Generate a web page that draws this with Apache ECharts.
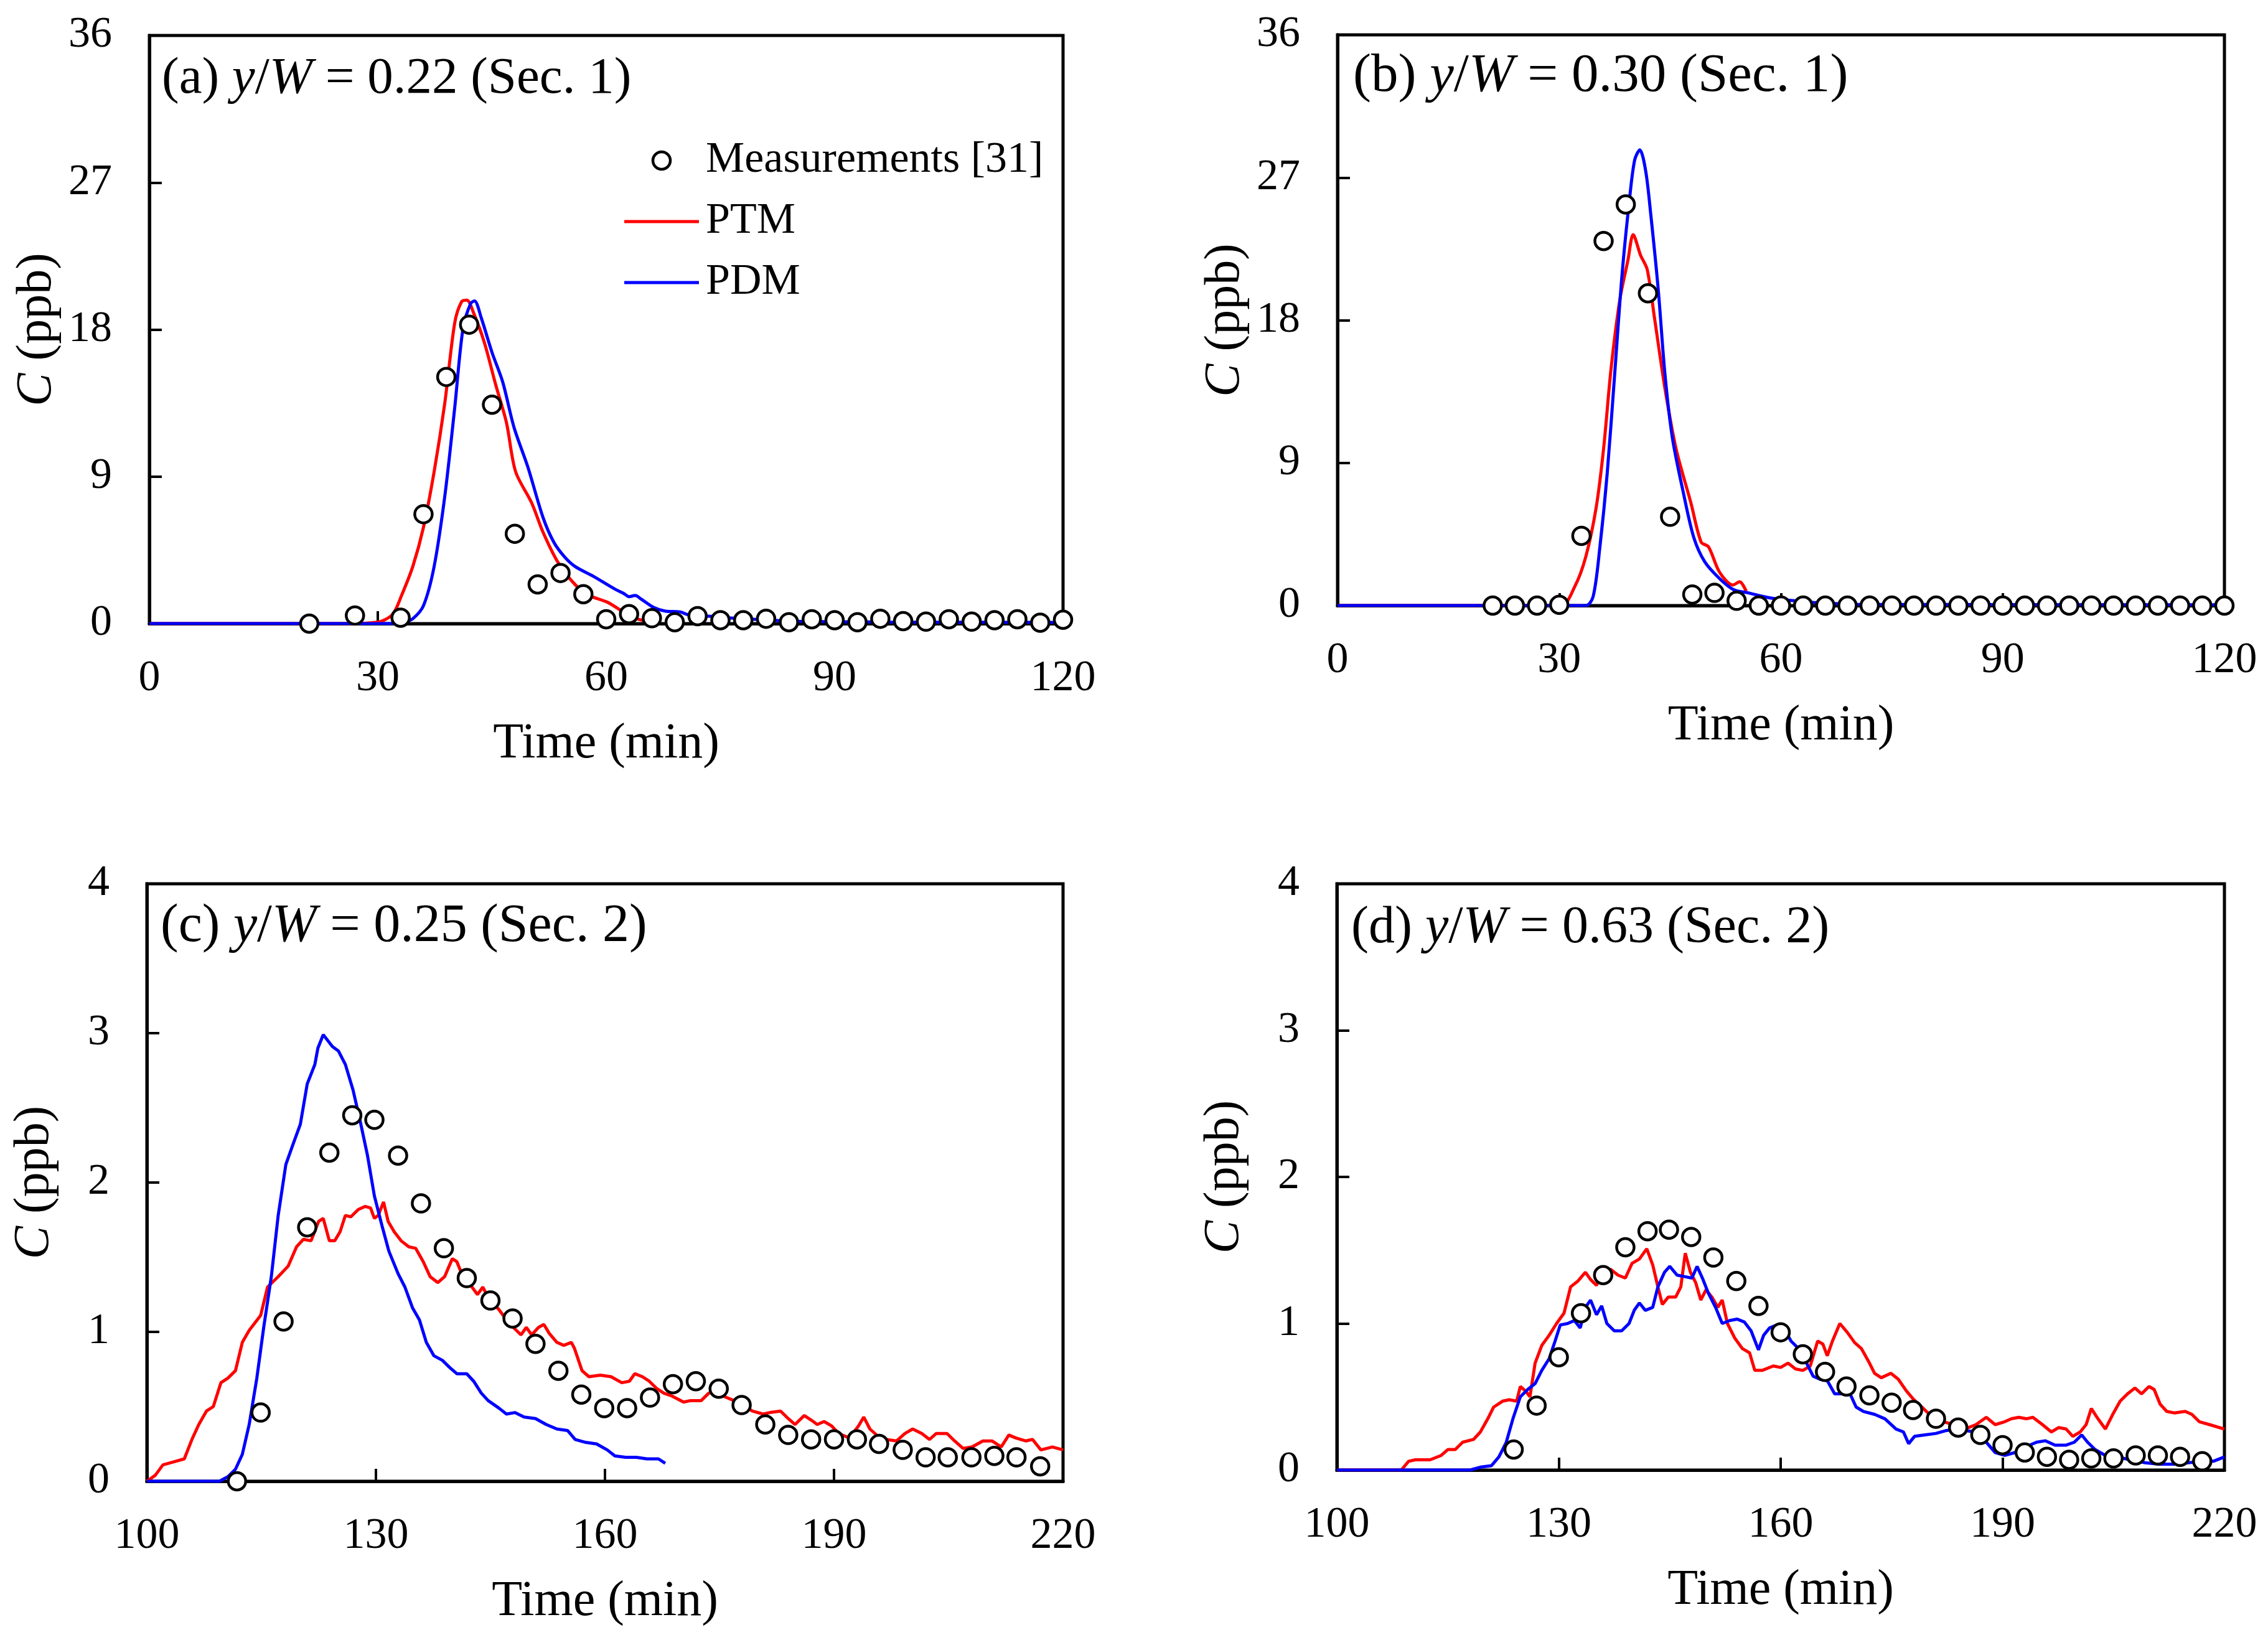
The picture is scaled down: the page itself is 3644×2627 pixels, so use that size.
<!DOCTYPE html>
<html>
<head>
<meta charset="utf-8">
<script src="https://cdn.jsdelivr.net/npm/echarts@6/dist/echarts.min.js"></script>
<style>
  html, body { margin: 0; padding: 0; background: #fff; }
  #chart { width: 3644px; height: 2627px; }
</style>
</head>
<body>
<div id="chart"></div>
<script>
var FONT = 'Liberation Serif';

// (a) y/W = 0.22 (Sec. 1)
var measA = [[21,0],[27,0.5],[33,0.36],[36,6.7],[39,15.1],[42,18.3],[45,13.4],[48,5.5],[51,2.4],[54,3.1],[57,1.8],
  [60,0.27],[63,0.58],[66,0.33],[69,0.09],[72,0.46],[75,0.21],[78,0.21],[81,0.3],[84,0.09],[87,0.27],[90,0.21],
  [93,0.09],[96,0.3],[99,0.15],[102,0.12],[105,0.27],[108,0.12],[111,0.21],[114,0.27],[117,0.06],[120,0.24]];
var ptmA = [[0,0],[27,0],[29,0.05],[30.5,0.15],[32,0.6],[33.1,1.7],[34.6,3.5],[36,5.9],[37.4,9.3],[38.8,13.5],
  [40.1,18.4],[41,19.7],[41.7,19.8],[42.6,19],[44,17.2],[45.5,14.6],[46.9,12.3],[48.1,9.3],[50.2,7.4],[51.7,5.6],
  [53.6,3.8],[55.5,2.6],[57.4,1.8],[60.2,1.3],[62.1,0.76],[64,0.3],[66,0.1]];
var pdmA = [[0,0],[32,0],[33.5,0.1],[34.6,0.3],[36,1.1],[37.4,3.5],[38.8,7.8],[40.1,13.2],[41.2,18.1],[42.2,19.6],
  [42.7,19.75],[43.6,18.7],[45,16.6],[46.4,14.8],[47.9,12],[49.7,9.6],[51.7,6.5],[53.1,5],[54.5,4.1],[55.9,3.5],
  [58.3,2.9],[61.2,2.1],[62.3,1.85],[63,1.65],[63.8,1.72],[64.6,1.5],[66.2,1.0],[67.8,0.76],[69.7,0.72],[70.8,0.53],
  [73.4,0.46],[76.4,0.34],[79.4,0.27],[84,0.15],[95,0.1],[120,0.08]];

// (b) y/W = 0.30 (Sec. 1)
var measB = [[21,0],[24,0],[27,0],[30,0.05],[33,4.4],[36,23],[39,25.3],[42,19.7],[45,5.6],[48,0.7],[51,0.8],[54,0.3],
  [57,0],[60,0],[63,0],[66,0],[69,0],[72,0],[75,0],[78,0],[81,0],[84,0],[87,0],[90,0],[93,0],[96,0],[99,0],
  [102,0],[105,0],[108,0],[111,0],[114,0],[117,0],[120,0]];
var ptmB = [[0,0],[30.2,0],[32.1,1.2],[33.6,3.1],[35,6.2],[36,9.9],[37,14.9],[38.2,19.3],[39.3,21.8],[40,23.4],
  [41,22.1],[41.9,21.2],[42.9,18.1],[44.3,13.7],[45.8,9.9],[47.8,6.5],[49.2,4],[50.2,3.7],[51.7,2.1],[53.5,1.3],
  [54.4,1.5],[55.3,0.9]];
var pdmB = [[0,0],[33.6,0],[34.6,0.6],[35.5,3.7],[36.5,8.4],[37.5,14.6],[38.5,20.9],[39.5,25.6],[40.2,28.1],
  [40.9,28.75],[41.7,27.4],[42.4,24.6],[43.4,19.9],[44.3,14.6],[45.3,10.6],[46.8,7.1],[48.2,4.3],[49.7,2.75],
  [51.7,1.7],[53.6,1.0],[55.4,0.82],[58.7,0.47],[61.6,0.31],[64.3,0.2],[70,0.08],[120,0.05]];

// (c) y/W = 0.25 (Sec. 2)
var measC = [[111.8,0],[114.9,0.46],[117.9,1.07],[121,1.7],[123.9,2.2],[126.9,2.45],[129.8,2.42],[132.9,2.18],
  [135.9,1.86],[138.9,1.56],[141.9,1.36],[145,1.21],[147.9,1.09],[150.9,0.92],[153.9,0.74],[156.9,0.58],
  [159.9,0.49],[162.9,0.49],[165.9,0.56],[168.9,0.65],[171.9,0.67],[174.9,0.62],[177.9,0.51],[181,0.38],
  [184,0.31],[187,0.28],[190,0.28],[193,0.28],[195.9,0.25],[199,0.21],[202,0.16],[204.9,0.16],[208,0.16],
  [211,0.17],[213.9,0.16],[217,0.1]];
var ptmC = [[100,0],[101.1,0.04],[102.1,0.11],[103.5,0.13],[104.9,0.15],[105.9,0.28],[106.8,0.38],[107.8,0.47],
  [108.7,0.5],[109.7,0.66],[110.6,0.69],[111.6,0.74],[112.5,0.93],[113.4,1.01],[114.9,1.11],[115.8,1.3],
  [117.2,1.37],[118.5,1.44],[119.6,1.57],[120.5,1.62],[121.5,1.61],[122.5,1.74],[123.1,1.76],[123.9,1.61],
  [124.6,1.61],[125.3,1.67],[126,1.78],[126.7,1.77],[127.7,1.82],[128.6,1.84],[129.3,1.83],[129.8,1.76],
  [130.3,1.78],[131,1.87],[131.6,1.74],[132.4,1.67],[133.3,1.61],[134.3,1.57],[135.2,1.56],[136.2,1.47],
  [137.1,1.37],[138.1,1.33],[139,1.37],[140,1.49],[140.6,1.47],[141.4,1.37],[142.3,1.32],[143.3,1.25],[144,1.3],
  [144.7,1.23],[146.1,1.15],[147.1,1.08],[148,1.03],[149,0.98],[149.7,1.03],[150.4,0.98],[151.3,1.03],[152,1.05],
  [152.7,0.99],[153.7,0.93],[154.6,0.91],[155.6,0.93],[156,0.89],[157,0.74],[157.9,0.7],[159.4,0.71],[160.8,0.7],
  [162.2,0.66],[163.2,0.67],[163.9,0.72],[164.9,0.7],[165.8,0.67],[166.8,0.62],[167.7,0.59],[168.8,0.57],
  [170.3,0.53],[171.2,0.54],[172.6,0.54],[173.6,0.59],[174.5,0.6],[175.5,0.57],[176.9,0.54],[177.8,0.52],
  [179.3,0.47],[180.7,0.45],[181.6,0.46],[183,0.47],[184,0.42],[184.9,0.38],[186.1,0.44],[187,0.41],[187.8,0.38],
  [188.7,0.4],[189.7,0.37],[190.6,0.32],[192,0.29],[193.2,0.37],[193.9,0.43],[194.7,0.35],[195.8,0.3],
  [196.8,0.28],[198.2,0.27],[199.3,0.32],[200.3,0.35],[201.5,0.32],[202.5,0.28],[203.4,0.32],[204.8,0.32],
  [205.8,0.27],[206.9,0.22],[208.1,0.23],[209.5,0.27],[210.7,0.27],[211.9,0.23],[212.9,0.31],[213.8,0.29],
  [215.1,0.27],[216,0.28],[217.1,0.21],[218.6,0.23],[220,0.21]];
var pdmC = [[100,0],[109.5,0],[110.6,0.03],[111.6,0.08],[112.5,0.18],[113.4,0.38],[114.4,0.69],[115.3,1.03],
  [116.3,1.37],[117.2,1.78],[118.2,2.12],[119.1,2.25],[120.1,2.39],[121,2.66],[122,2.79],[122.4,2.9],[123.1,2.99],
  [123.7,2.95],[124.3,2.91],[125.1,2.88],[126,2.79],[127,2.62],[127.9,2.42],[128.9,2.18],[129.8,1.91],[130.8,1.71],
  [131.7,1.54],[132.9,1.39],[133.8,1.3],[134.8,1.16],[135.7,1.08],[136.6,0.93],[137.6,0.84],[138.7,0.81],
  [139.7,0.76],[140.6,0.72],[141.9,0.72],[142.8,0.67],[143.8,0.59],[144.7,0.54],[146.1,0.49],[147.1,0.45],
  [148.2,0.46],[149.4,0.43],[150.9,0.42],[152.3,0.38],[153.7,0.35],[155.1,0.34],[156.1,0.28],[157.5,0.26],
  [158.9,0.25],[160.3,0.21],[161.3,0.17],[162.7,0.16],[164.1,0.16],[165.5,0.15],[167,0.15],[167.9,0.12]];

// (d) y/W = 0.63 (Sec. 2)
var measD = [[123.9,0.14],[127,0.44],[130,0.77],[133,1.07],[136,1.33],[139,1.52],[142,1.63],[144.9,1.64],
  [147.9,1.59],[150.9,1.45],[154,1.29],[157,1.12],[160,0.94],[163,0.79],[166,0.67],[168.9,0.57],[172,0.51],
  [175,0.46],[177.9,0.41],[181,0.35],[184,0.29],[187,0.24],[190,0.17],[193,0.12],[196,0.09],[199,0.07],
  [202,0.08],[205,0.08],[208,0.1],[211,0.1],[214,0.09],[217,0.06]];
var ptmD = [[100,0],[108.7,0],[109.7,0.06],[110.6,0.07],[112.6,0.07],[114.1,0.1],[115,0.14],[116,0.14],[117,0.19],
  [118.5,0.21],[119.4,0.26],[120.4,0.35],[121.2,0.43],[122.4,0.47],[123.3,0.48],[124.3,0.47],[124.8,0.57],
  [125.5,0.54],[126.1,0.5],[126.8,0.73],[127.7,0.85],[128.7,0.92],[129.7,1.0],[130.7,1.07],[131.6,1.25],
  [132.6,1.29],[133.6,1.35],[134.3,1.3],[135.1,1.26],[135.8,1.35],[137,1.37],[138,1.33],[139,1.31],[139.9,1.41],
  [140.9,1.44],[141.9,1.51],[142.7,1.4],[143.4,1.25],[144,1.13],[144.8,1.18],[145.8,1.18],[146.5,1.25],
  [147.1,1.48],[147.8,1.35],[148.5,1.28],[149.2,1.16],[149.9,1.23],[150.7,1.18],[151.5,1.11],[152.1,1.16],
  [152.8,1.0],[153.8,0.9],[154.8,0.83],[155.8,0.8],[156.5,0.68],[157.5,0.68],[159,0.71],[160,0.7],[161,0.73],
  [162,0.69],[163,0.68],[164,0.71],[165,0.88],[165.7,0.86],[166.3,0.78],[167,0.88],[168,1.0],[169,0.94],
  [170,0.87],[170.9,0.83],[171.9,0.74],[172.7,0.66],[173.6,0.63],[174.9,0.66],[175.9,0.62],[177,0.54],[178,0.48],
  [179.3,0.42],[180.5,0.36],[182,0.33],[183.4,0.31],[184.9,0.28],[186.4,0.31],[187.8,0.36],[189,0.31],
  [190.3,0.33],[191.2,0.35],[192.2,0.36],[193.2,0.35],[194.1,0.36],[195.4,0.31],[196.6,0.26],[197.6,0.29],
  [198.6,0.28],[199.5,0.23],[200.5,0.26],[201.3,0.31],[202,0.42],[202.9,0.35],[203.9,0.28],[204.9,0.38],
  [205.9,0.47],[206.9,0.52],[207.9,0.56],[208.8,0.52],[209.8,0.57],[210.5,0.55],[211.3,0.45],[212.2,0.4],
  [213.2,0.39],[214.7,0.4],[215.6,0.38],[216.6,0.33],[218,0.31],[220,0.28]];
var pdmD = [[100,0],[118,0],[119.4,0.02],[120.9,0.03],[121.9,0.09],[122.9,0.19],[123.8,0.35],[124.8,0.5],
  [125.8,0.55],[126.8,0.59],[127.7,0.68],[128.7,0.76],[129.5,0.88],[130.2,0.99],[131.2,1.0],[132.1,1.02],
  [132.9,0.97],[133.6,1.11],[134.3,1.16],[135.1,1.06],[135.8,1.12],[136.5,1.0],[137.5,0.95],[138.5,0.95],
  [139.5,1.0],[140.2,1.09],[140.9,1.14],[141.7,1.09],[142.7,1.11],[143.4,1.25],[144.3,1.35],[145,1.39],[146,1.33],
  [147,1.32],[148,1.31],[148.7,1.39],[149.5,1.3],[150.2,1.21],[151.2,1.11],[152.1,1.0],[153.1,1.02],[154.1,1.03],
  [155.1,1.01],[156,0.95],[157,0.82],[157.7,0.92],[158.5,0.97],[159.5,0.99],[160.4,0.97],[161.4,0.88],
  [162.4,0.83],[163.4,0.74],[164.4,0.64],[165.3,0.62],[166.3,0.61],[167.3,0.52],[168.3,0.52],[169.2,0.54],
  [170.2,0.43],[171.2,0.4],[172.7,0.38],[174.1,0.35],[175.6,0.28],[176.6,0.26],[177.3,0.18],[178.1,0.23],
  [179.5,0.24],[181,0.25],[182.4,0.27],[183.9,0.28],[184.9,0.27],[186.4,0.26],[187.8,0.19],[189,0.12],
  [190.3,0.1],[191.7,0.12],[193.2,0.16],[194.6,0.19],[195.8,0.2],[197.1,0.17],[198.6,0.17],[199.7,0.19],
  [200.7,0.24],[201.5,0.19],[202.5,0.14],[203.9,0.1],[205.4,0.09],[207.3,0.07],[209.3,0.05],[211.2,0.04],
  [213.2,0.04],[215.1,0.05],[217.1,0.06],[218.5,0.06],[220,0.09]];

var panelTitles = ['(a) {i|y}/{i|W} = 0.22 (Sec. 1)', '(b) {i|y}/{i|W} = 0.30 (Sec. 1)',
                   '(c) {i|y}/{i|W} = 0.25 (Sec. 2)', '(d) {i|y}/{i|W} = 0.63 (Sec. 2)'];
var xRanges = [[0,120],[0,120],[100,220],[100,220]];
var yRanges = [[0,36,9],[0,36,9],[0,4,1],[0,4,1]];
var grids = [
  {left: 240, top: 57, width: 1468, height: 945},
  {left: 2149, top: 56, width: 1425, height: 917},
  {left: 236, top: 1420, width: 1472, height: 960},
  {left: 2148, top: 1420, width: 1426, height: 942}
];
var titlePos = [[260, 86], [2174, 80], [258, 1446], [2171, 1450]];
var titleSize = [83, 87, 86, 84];
var meas = [measA, measB, measC, measD];
var ptm = [ptmA, ptmB, ptmC, ptmD];
var pdm = [pdmA, pdmB, pdmC, pdmD];

var LINE_ICON = 'path://M0,0L120,0L120,5L0,5Z';

var option = {
  backgroundColor: '#fff',
  animation: false,
  grid: [], xAxis: [], yAxis: [], title: [], series: [],
  legend: {
    left: 998, top: 218, orient: 'vertical',
    itemWidth: 120, itemHeight: 28, itemGap: 28,
    textStyle: {fontFamily: FONT, color: '#000', fontSize: 70, lineHeight: 70, padding: [0, 0, 0, 6]},
    data: [
      {name: 'Measurements [31]', icon: 'circle',
        itemStyle: {color: '#fff', borderColor: '#000', borderWidth: 4.5, opacity: 1}},
      {name: 'PTM', icon: LINE_ICON, itemStyle: {color: '#ff0000', borderWidth: 0}},
      {name: 'PDM', icon: LINE_ICON, itemStyle: {color: '#0000ff', borderWidth: 0}}
    ]
  }
};

for (var i = 0; i < 4; i++) {
  var g = grids[i];
  option.grid.push({left: g.left, top: g.top, width: g.width, height: g.height,
    show: true, borderColor: '#000', borderWidth: 5, backgroundColor: 'transparent'});
  option.xAxis.push({
    type: 'value', gridIndex: i, min: xRanges[i][0], max: xRanges[i][1], interval: 30,
    name: 'Time (min)', nameLocation: 'middle', nameGap: 154,
    nameTextStyle: {fontFamily: FONT, color: '#000', fontSize: 80},
    axisLine: {show: true, onZero: false, lineStyle: {color: '#000', width: 5}},
    axisTick: {show: true, inside: true, length: 20, lineStyle: {color: '#000', width: 4}},
    axisLabel: {margin: 54, fontSize: 70, fontFamily: FONT, color: '#000'},
    splitLine: {show: false}
  });
  option.yAxis.push({
    type: 'value', gridIndex: i, min: yRanges[i][0], max: yRanges[i][1], interval: yRanges[i][2],
    name: '{i|C} (ppb)', nameLocation: 'middle', nameGap: 140,
    nameTextStyle: {fontFamily: FONT, color: '#000', fontSize: 80,
      rich: {i: {fontFamily: FONT, color: '#000', fontSize: 80, fontStyle: 'italic'}}},
    axisLine: {show: true, onZero: false, lineStyle: {color: '#000', width: 5}},
    axisTick: {show: true, inside: true, length: 20, lineStyle: {color: '#000', width: 4}},
    axisLabel: {margin: 60, fontSize: 70, fontFamily: FONT, color: '#000'},
    splitLine: {show: false}
  });
  option.title.push({
    text: panelTitles[i], left: titlePos[i][0], top: titlePos[i][1], padding: 0,
    textStyle: {fontFamily: FONT, color: '#000', fontSize: titleSize[i], fontWeight: 'normal',
      rich: {i: {fontFamily: FONT, color: '#000', fontSize: titleSize[i], fontStyle: 'italic'}}}
  });
  option.series.push({
    name: 'PTM', type: 'line', xAxisIndex: i, yAxisIndex: i, data: ptm[i],
    symbol: 'none', showSymbol: false, smooth: i < 2 ? 0.3 : false, z: 2,
    lineStyle: {color: '#ff0000', width: 5}, itemStyle: {color: '#ff0000'}
  });
  option.series.push({
    name: 'PDM', type: 'line', xAxisIndex: i, yAxisIndex: i, data: pdm[i],
    symbol: 'none', showSymbol: false, smooth: i < 2 ? 0.3 : false, z: 2,
    lineStyle: {color: '#0000ff', width: 5}, itemStyle: {color: '#0000ff'}
  });
  option.series.push({
    name: 'Measurements [31]', type: 'scatter', xAxisIndex: i, yAxisIndex: i, data: meas[i],
    symbol: 'circle', symbolSize: 28, z: 4,
    itemStyle: {color: '#fff', borderColor: '#000', borderWidth: 4.5, opacity: 1}
  });
}

var chart = echarts.init(document.getElementById('chart'), null, {renderer: 'canvas'});
chart.setOption(option);
</script>
</body>
</html>
